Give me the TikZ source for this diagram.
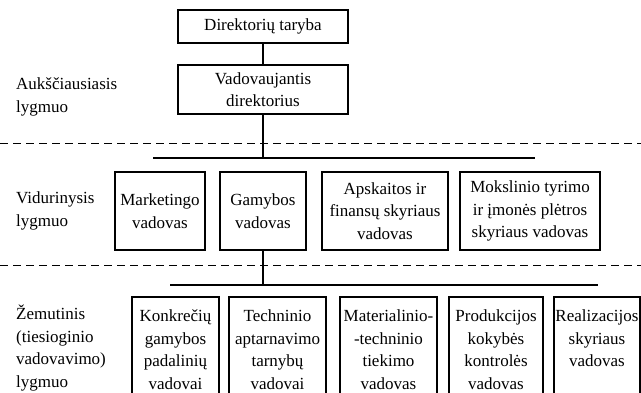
\documentclass[tikz,border=0pt]{standalone}
\usepackage{fontspec}
\setmainfont{Liberation Serif}
\begin{document}
\begin{tikzpicture}[x=1pt,y=-1pt,
  box/.style={draw, line width=1.5pt, rectangle, inner sep=0pt, align=center,
    font=\fontsize{17}{22.5}\selectfont},
  lbl/.style={anchor=west, inner sep=0pt, align=left,
    font=\fontsize{17}{22.5}\selectfont},
  conn/.style={line width=1.2pt},
  level/.style={line width=1pt, dash pattern=on 8pt off 5pt}]
\useasboundingbox (0,0) rectangle (641,392);
\clip (0,0) rectangle (641,392);
% top
\node[box, minimum width=170pt, minimum height=33pt] (dt) at (263,26.5) {Direktorių taryba};
\node[box, minimum width=170pt, minimum height=49pt] (vd) at (263,89.5) {Vadovaujantis\\direktorius};
% middle
\node[box, minimum width=90pt, minimum height=78pt] (m1) at (160,211) {Marketingo\\vadovas};
\node[box, minimum width=86pt, minimum height=78pt] (m2) at (263,211) {Gamybos\\vadovas};
\node[box, minimum width=126pt, minimum height=78pt] (m3) at (385,211) {Apskaitos ir\\finansų skyriaus\\vadovas};
\node[box, minimum width=140pt, minimum height=78pt] (m4) at (530,211) {Mokslinio tyrimo\\ir įmonės plėtros\\skyriaus vadovas};
% bottom
\node[box, minimum width=87pt, minimum height=105pt] (b1) at (175.5,349.5) {Konkrečių\\gamybos\\padalinių\\vadovai};
\node[box, minimum width=97pt, minimum height=105pt] (b2) at (277.5,349.5) {Techninio\\aptarnavimo\\tarnybų\\vadovai};
\node[box, minimum width=97pt, minimum height=105pt] (b3) at (388.5,349.5) {Materialinio-\\-techninio\\tiekimo\\vadovas};
\node[box, minimum width=94pt, minimum height=105pt] (b4) at (496,349.5) {Produkcijos\\kokybės\\kontrolės\\vadovas};
\node[box, minimum width=86pt, minimum height=105pt] (b5) at (597,349.5) {Realizacijos\\skyriaus\\vadovas\\~};
% level labels
\node[lbl] (l1) at (16,97) {Aukščiausiasis\\lygmuo};
\node[lbl] (l2) at (16,211) {Vidurinysis\\lygmuo};
\node[lbl] (l3) at (16,348) {Žemutinis\\(tiesioginio\\vadovavimo)\\lygmuo};
% level separators
\coordinate (d1a) at (0,143);
\coordinate (d1b) at (641,143);
\coordinate (d2a) at (0,265);
\coordinate (d2b) at (641,265);
\draw[level] (d1a) -- (d1b);
\draw[level] (d2a) -- (d2b);
% connectors
\coordinate (j1) at (263,158);
\coordinate (bar1a) at (153,158);
\coordinate (bar1b) at (535,158);
\coordinate (j2) at (263,285);
\coordinate (bar2a) at (170,285);
\coordinate (bar2b) at (598,285);
\draw[conn] (dt.south) -- (vd.north);
\draw[conn] (vd.south) -- (j1);
\draw[conn] (bar1a) -- (bar1b);
\draw[conn] (m2.south) -- (j2);
\draw[conn] (bar2a) -- (bar2b);
\end{tikzpicture}
\end{document}
